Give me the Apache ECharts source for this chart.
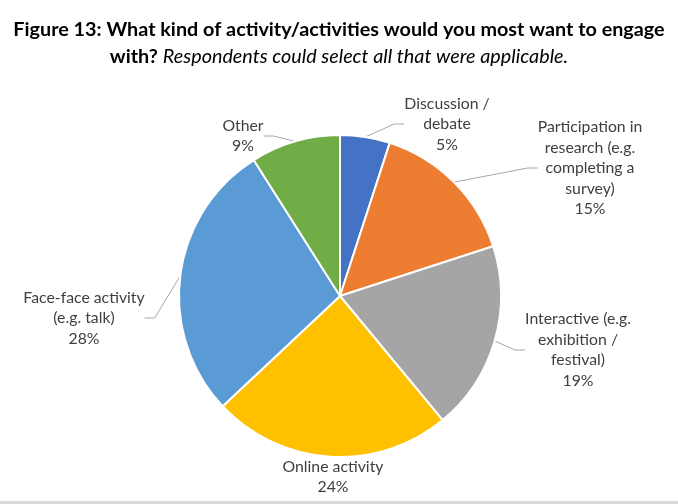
<!DOCTYPE html>
<html><head><meta charset="utf-8">
<script src="https://cdn.jsdelivr.net/npm/echarts@6/dist/echarts.min.js"></script>
<style>html,body{margin:0;padding:0;background:#fff;}#c{width:678px;height:501px;}#strip{width:678px;height:3px;background:#dadada;}</style>
</head><body><div id="c"></div><div id="strip"></div>
<script>
const categories = ['Discussion /\ndebate', 'Participation in\nresearch (e.g.\ncompleting a\nsurvey)', 'Interactive (e.g.\nexhibition /\nfestival)', 'Online activity', 'Face-face activity\n(e.g. talk)', 'Other'];
const values = [5, 15, 19, 24, 28, 9];
const colors = ['#4472C4', '#ED7D31', '#A5A5A5', '#FFC000', '#5B9BD5', '#70AD47'];
// label anchor positions (layout config)
const labelPos = [[447, 124], [590, 168], [578, 350], [333, 477], [84, 318], [243, 136]];

const chart = echarts.init(document.getElementById('c'), null, {renderer: 'canvas'});
chart.setOption({
  animation: false,
  title: {
    left: 'center', top: 11,
    text: '{b|Figure 13: What kind of activity/activities would you most want to engage}\n{b|with?} {i|Respondents could select all that were applicable.}',
    textStyle: {
      lineHeight: 27,
      fontWeight: 'normal',
      rich: {
        b: {fontFamily: 'Lato', fontWeight: 'bold', fontSize: 19.8, color: '#000', lineHeight: 27},
        i: {fontFamily: 'Lato', fontWeight: 'normal', fontStyle: 'italic', fontSize: 19.8, color: '#000', lineHeight: 27}
      }
    }
  },
  series: [{
    type: 'pie',
    center: [340, 296],
    radius: 161,
    startAngle: 90,
    clockwise: true,
    itemStyle: {borderColor: '#fff', borderWidth: 2},
    label: {
      show: true,
      formatter: p => p.name + '\n' + p.value + '%',
      fontFamily: 'Lato', fontSize: 15.8, color: '#404040', lineHeight: 20.5, align: 'center'
    },
    labelLine: {show: true, length: 10, length2: 10, lineStyle: {color: '#a6a6a6', width: 1}},
    labelLayout: p => ({x: labelPos[p.dataIndex][0], y: labelPos[p.dataIndex][1], align: 'center', verticalAlign: 'middle'}),
    data: categories.map((c, i) => ({name: c, value: values[i], itemStyle: {color: colors[i]}, labelLine: {show: i !== 3}}))
  }]
});
</script></body></html>
